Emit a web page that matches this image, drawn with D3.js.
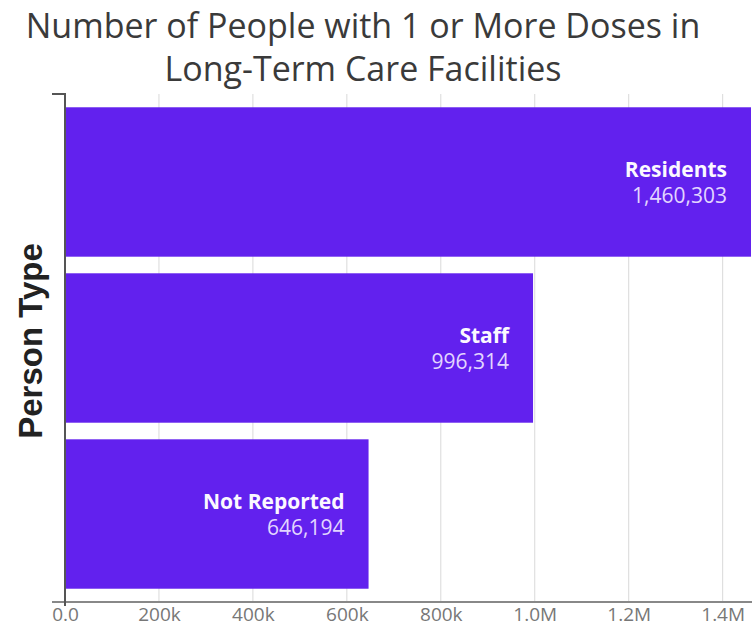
<!DOCTYPE html>
<html>
<head>
<meta charset="utf-8">
<script src="https://cdn.jsdelivr.net/npm/d3@7"></script>
<style>
  html, body { margin: 0; padding: 0; background: #fff; }
  svg { display: block; font-family: "Open Sans", "Noto Sans", sans-serif; }
</style>
</head>
<body>
<svg id="chart" width="752" height="627"></svg>
<script>
// Vaccination counts by person type
const categories = ["Residents", "Staff", "Not Reported"];
const values = [1460303, 996314, 646194];
const tickValues = [0, 200000, 400000, 600000, 800000, 1000000, 1200000, 1400000];
const tickLabels = ["0.0", "200k", "400k", "600k", "800k", "1.0M", "1.2M", "1.4M"];
const titleLines = ["Number of People with 1 or More Doses in", "Long-Term Care Facilities"];

const svg = d3.select("#chart");
const plotLeft = 65, plotRight = 751, plotTop = 94, plotBottom = 602;

const x = d3.scaleLinear().domain([0, d3.max(values)]).range([plotLeft, plotRight]);
const y = d3.scaleBand().domain(categories).range([plotTop, plotBottom])
  .paddingInner(0.1).paddingOuter(0.08);

// Title, one text element per line
svg.append("g")
  .selectAll("text")
  .data(titleLines)
  .join("text")
  .attr("text-anchor", "middle")
  .attr("fill", "#3a3a3a").attr("font-size", 34)
  .attr("x", 363)
  .attr("y", (d, i) => 38 + i * 43)
  .text(d => d);

// Vertical gridlines
svg.append("g")
  .selectAll("line")
  .data(tickValues.slice(1))
  .join("line")
  .attr("x1", d => x(d)).attr("x2", d => x(d))
  .attr("y1", plotTop).attr("y2", plotBottom)
  .attr("stroke", "#d9d9d9").attr("stroke-width", 1);

// Bars
svg.append("g")
  .selectAll("rect")
  .data(categories)
  .join("rect")
  .attr("x", x(0))
  .attr("y", d => y(d))
  .attr("width", (d, i) => x(values[i]) - x(0))
  .attr("height", y.bandwidth())
  .attr("fill", "#6221ee");

// Bar labels: category name over its value, right-aligned inside the bar
const fmt = d3.format(",");
const labels = svg.append("g")
  .selectAll("g")
  .data(categories)
  .join("g")
  .attr("transform", (d, i) => `translate(${x(values[i]) - 24},${y(d) + y.bandwidth() / 2})`);
labels.append("text")
  .attr("text-anchor", "end").attr("y", -5)
  .attr("fill", "#fbf8ff").attr("font-weight", "bold").attr("font-size", 21)
  .text(d => d);
labels.append("text")
  .attr("text-anchor", "end").attr("y", 21)
  .attr("fill", "#e2d6ff").attr("font-size", 21)
  .text((d, i) => fmt(values[i]));

// X axis
const xAxis = d3.axisBottom(x)
  .tickValues(tickValues)
  .tickFormat((d, i) => tickLabels[i])
  .tickSize(0).tickPadding(5);
const gx = svg.append("g")
  .attr("transform", `translate(0,${plotBottom})`)
  .call(xAxis);
gx.select(".domain").remove();
gx.append("line")
  .attr("x1", 52).attr("x2", 752)
  .attr("stroke", "#888").attr("stroke-width", 2);
gx.selectAll(".tick text")
  .attr("fill", "#777").attr("font-size", 19)
  .attr("font-family", "\"Open Sans\", sans-serif");

// Y axis
svg.append("path")
  .attr("d", `M52,${plotTop}H${plotLeft}V${plotBottom + 4}`)
  .attr("fill", "none").attr("stroke", "#555").attr("stroke-width", 2);

// Y axis title
svg.append("text")
  .attr("transform", `translate(42,${341}) rotate(-90)`)
  .attr("text-anchor", "middle")
  .attr("fill", "#222").attr("font-weight", "bold").attr("font-size", 33)
  .attr("font-family", "\"Liberation Sans\", Arial, sans-serif")
  .text("Person Type");
</script>
</body>
</html>
